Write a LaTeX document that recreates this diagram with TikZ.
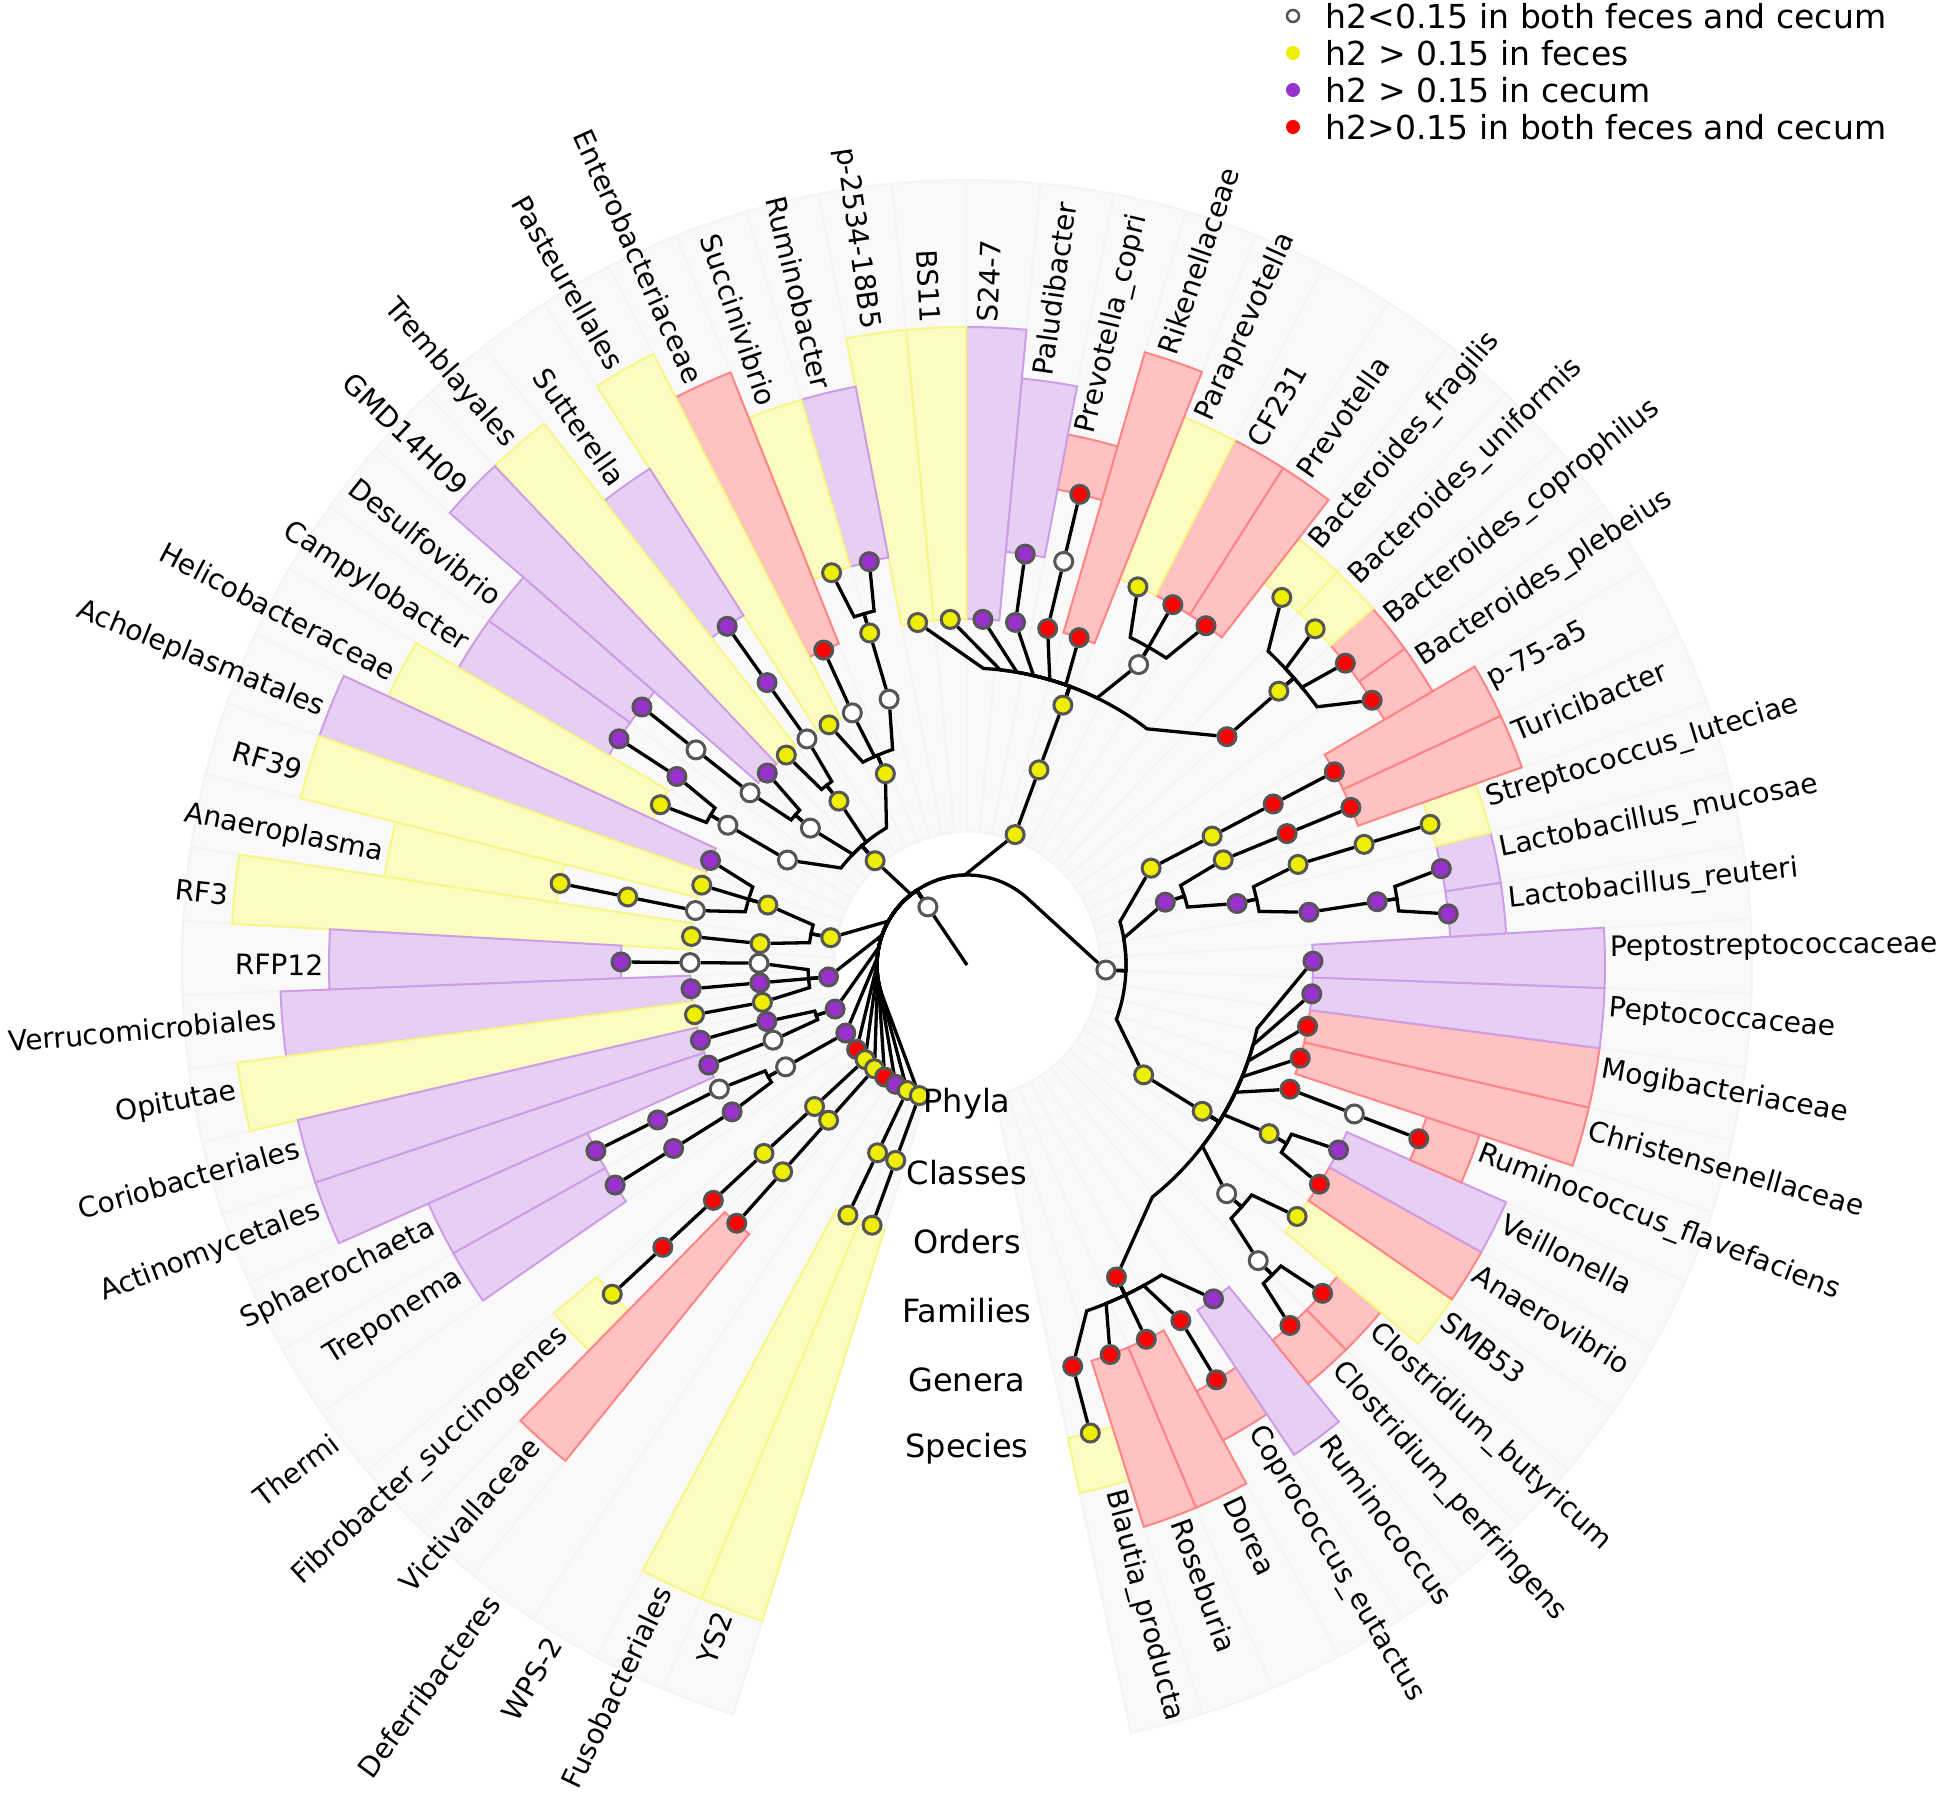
\documentclass[tikz,border=0pt]{standalone}
\usepackage{fontspec}
\setmainfont{DejaVu Sans}
\usepackage{tikz}
\usetikzlibrary{calc}
\definecolor{hyel}{HTML}{EEEE00}
\definecolor{hpur}{HTML}{9932CC}
\definecolor{hred}{HTML}{FF0000}
\definecolor{rimgray}{HTML}{555555}
\pgfdeclarelayer{canvas}
\pgfdeclarelayer{shade}
\pgfdeclarelayer{wires}
\pgfsetlayers{canvas,shade,wires,main}

\tikzset{
	tx/.style={circle, draw=rimgray, line width=0.3mm, minimum size=1.8mm, inner sep=0pt},
	yel/.style={tx, fill=hyel},
	pur/.style={tx, fill=hpur},
	rdn/.style={tx, fill=hred},
	wht/.style={tx, fill=white},
	branchline/.style={black, line width=0.33mm},
	slotshade/.style={fill=black!2.5, draw=black!4.5, line width=0.2mm},
	hilite/.style={fill=#1!24, draw=#1!48, line width=0.2mm},
	leaftext/.style={inner sep=0pt, font=\fontsize{8}{9.6}\selectfont},
	levtext/.style={inner sep=0pt, font=\fontsize{9.1}{11}\selectfont},
	keytext/.style={inner sep=0pt, anchor=west, font=\fontsize{9.4}{11}\selectfont}
}

% taxon node: name, angle, level, style
\newcommand{\taxon}[4]
{
	\pgfmathsetmacro\trad{70+69*#3}
	\node[#4] (#1) at (#2:\trad) {};
	\expandafter\xdef\csname tang@#1\endcsname{#2}
	\expandafter\xdef\csname tlev@#1\endcsname{#3}
}
% parent -> children with a bracket
\newcommand{\branch}[2]
{
	\foreach \kid in {#2}{
		\edef\brpang{\csname tang@#1\endcsname}
		\edef\brcang{\csname tang@\kid\endcsname}
		\edef\brlev{\csname tlev@#1\endcsname}
		\pgfmathsetmacro\brrad{90+69*\brlev}
		\pgfmathsetmacro\brbang{\brpang+0.6*(\brcang-\brpang)}
		\draw[branchline] (#1) -- (\brpang:\brrad) arc[start angle=\brpang, end angle=\brbang, radius=\brrad] -- (\kid);
	}
}
% label of a slot: slot, angle, radius, text
\newcommand{\leafname}[4]
{
	\pgfmathsetmacro\labrad{#3+5}
	\ifdim #2pt<90pt
		\pgfmathsetmacro\labang{#2+0.8}
		\node[leaftext, anchor=west, rotate=#2] (lab#1) at (\labang:\labrad) {#4};
	\else
		\ifdim #2pt<180pt \pgfmathsetmacro\labang{#2+0.5}\else\pgfmathsetmacro\labang{#2-0.5}\fi
		\pgfmathsetmacro\labrot{#2-180}
		\node[leaftext, anchor=east, rotate=\labrot] (lab#1) at (\labang:\labrad) {#4};
	\fi
}
% coloured slot: slot, leaf level, label level, colour, text
\newcommand{\leaf}[5]
{
	\pgfmathsetmacro\slotang{-75.24+5.42*#1}
	\pgfmathsetmacro\slotrin{70+69*#2}
	\pgfmathsetmacro\slotrout{540+49*(6-#3)}
	\pgfmathsetmacro\slotlo{\slotang-2.71}
	\pgfmathsetmacro\slothi{\slotang+2.71}
	\path[hilite=#4] (\slotlo:\slotrin) -- (\slotlo:\slotrout) arc[start angle=\slotlo, end angle=\slothi, radius=\slotrout] -- (\slothi:\slotrin) arc[start angle=\slothi, end angle=\slotlo, radius=\slotrin] -- cycle;
	\leafname{#1}{\slotang}{\slotrout}{#5}
}

\begin{document}
\begin{tikzpicture}[x=0.1mm, y=0.1mm]
	\useasboundingbox (-967,-837) rectangle (980,965);
	\begin{pgfonlayer}{canvas}
	\fill[white] (-967,-837) rectangle (980,965);
	\end{pgfonlayer}

	\coordinate (root) at (0,0);
	\taxon{bacteria}{123.95}{0}{wht}

	\taxon{firmicutes}{-2.07}{1}{wht}
	\taxon{bacteroidetes}{69.75}{1}{yel}
	\taxon{proteobacteria}{131.40}{1}{yel}
	\taxon{tenericutes}{168.66}{1}{yel}
	\taxon{verrucomicrobia}{184.92}{1}{pur}
	\taxon{actinobacteria}{198.47}{1}{pur}
	\taxon{spirochaetes}{209.31}{1}{pur}
	\taxon{thermi}{217.44}{1}{rdn}
	\taxon{fibrobacteres}{222.86}{1}{yel}
	\taxon{lentisphaerae}{228.28}{1}{yel}
	\taxon{deferribacteres}{233.70}{1}{rdn}
	\taxon{wps2}{239.12}{1}{pur}
	\taxon{fusobacteria}{244.54}{1}{yel}
	\taxon{cyanobacteria}{249.96}{1}{yel}

	\taxon{erysipelotrichi}{27.74}{2}{yel}
	\taxon{erysipelotrichales}{27.74}{3}{yel}
	\taxon{erysipelotrichaceae}{27.74}{4}{rdn}
	\taxon{p75a5}{27.74}{5}{rdn}
	\taxon{bacilli}{17.58}{2}{pur}
	\taxon{turicibacterales}{22.32}{3}{yel}
	\taxon{turicibacteraceae}{22.32}{4}{rdn}
	\taxon{turicibacter}{22.32}{5}{rdn}
	\taxon{lactobacillales}{12.83}{3}{pur}
	\taxon{streptococcaceae}{16.90}{4}{yel}
	\taxon{streptococcus}{16.90}{5}{yel}
	\taxon{sluteciae}{16.90}{6}{yel}
	\taxon{lactobacillaceae}{8.77}{4}{pur}
	\taxon{lactobacillus}{8.77}{5}{pur}
	\taxon{lmucosae}{11.48}{6}{pur}
	\taxon{lreuteri}{6.06}{6}{pur}
	\taxon{clostridia}{-31.88}{2}{yel}
	\taxon{clostridiales}{-31.88}{3}{yel}
	\taxon{peptostreptococcaceae}{0.64}{4}{pur}
	\taxon{peptococcaceae}{-4.78}{4}{pur}
	\taxon{mogibacteriaceae}{-10.20}{4}{rdn}
	\taxon{christensenellaceae}{-15.62}{4}{rdn}
	\taxon{ruminococcaceae}{-21.04}{4}{rdn}
	\taxon{ruminococcusA}{-21.04}{5}{wht}
	\taxon{rflavefaciens}{-21.04}{6}{rdn}
	\taxon{veillonellaceae}{-29.17}{4}{yel}
	\taxon{veillonella}{-26.46}{5}{pur}
	\taxon{anaerovibrio}{-31.88}{5}{rdn}
	\taxon{clostridiaceae}{-41.37}{4}{wht}
	\taxon{smb53}{-37.30}{5}{yel}
	\taxon{clostridium}{-45.43}{5}{wht}
	\taxon{cbutyricum}{-42.72}{6}{rdn}
	\taxon{cperfringens}{-48.14}{6}{rdn}
	\taxon{lachnospiraceae}{-64.40}{4}{rdn}
	\taxon{ruminococcusB}{-53.56}{5}{pur}
	\taxon{coprococcus}{-58.98}{5}{rdn}
	\taxon{ceutactus}{-58.98}{6}{rdn}
	\taxon{dorea}{-64.40}{5}{rdn}
	\taxon{roseburia}{-69.82}{5}{rdn}
	\taxon{blautia}{-75.24}{5}{rdn}
	\taxon{bproducta}{-75.24}{6}{yel}

	\taxon{bacteroidia}{69.75}{2}{yel}
	\taxon{bacteroidales}{69.75}{3}{yel}
	\taxon{p2534}{98.20}{4}{yel}
	\taxon{bs11}{92.78}{4}{yel}
	\taxon{s247}{87.36}{4}{pur}
	\taxon{porphyromonadaceae}{81.94}{4}{pur}
	\taxon{paludibacter}{81.94}{5}{pur}
	\taxon{prevotellaceae}{76.52}{4}{rdn}
	\taxon{prevotellaA}{76.52}{5}{wht}
	\taxon{pcopri}{76.52}{6}{rdn}
	\taxon{rikenellaceae}{71.10}{4}{rdn}
	\taxon{paraprevotellaceae}{60.26}{4}{wht}
	\taxon{paraprevotella}{65.68}{5}{yel}
	\taxon{cf231}{60.26}{5}{rdn}
	\taxon{prevotellaB}{54.84}{5}{rdn}
	\taxon{bacteroidaceae}{41.29}{4}{rdn}
	\taxon{bacteroides}{41.29}{5}{yel}
	\taxon{bfragilis}{49.42}{6}{yel}
	\taxon{buniformis}{44.00}{6}{yel}
	\taxon{bcoprophilus}{38.58}{6}{rdn}
	\taxon{bplebeius}{33.16}{6}{rdn}

	\taxon{gammaproteobacteria}{113.11}{2}{yel}
	\taxon{aeromonadales}{106.33}{3}{wht}
	\taxon{succinivibrionaceae}{106.33}{4}{yel}
	\taxon{ruminobacter}{103.62}{5}{pur}
	\taxon{succinivibrio}{109.04}{5}{yel}
	\taxon{enterobacteriales}{114.46}{3}{wht}
	\taxon{enterobacteriaceae}{114.46}{4}{rdn}
	\taxon{pasteurellales}{119.88}{3}{yel}
	\taxon{betaproteobacteria}{128.01}{2}{yel}
	\taxon{burkholderiales}{125.30}{3}{wht}
	\taxon{alcaligenaceae}{125.30}{4}{pur}
	\taxon{sutterella}{125.30}{5}{pur}
	\taxon{tremblayales}{130.72}{3}{yel}
	\taxon{deltaproteobacteria}{138.85}{2}{wht}
	\taxon{gmd14h09}{136.14}{3}{pur}
	\taxon{desulfovibrionales}{141.56}{3}{wht}
	\taxon{desulfovibrionaceae}{141.56}{4}{wht}
	\taxon{desulfovibrio}{141.56}{5}{pur}
	\taxon{epsilonproteobacteria}{149.69}{2}{wht}
	\taxon{campylobacterales}{149.69}{3}{wht}
	\taxon{campylobacteraceae}{146.98}{4}{pur}
	\taxon{campylobacter}{146.98}{5}{pur}
	\taxon{helicobacteraceae}{152.40}{4}{yel}

	\taxon{mollicutes}{163.24}{2}{yel}
	\taxon{acholeplasmatales}{157.82}{3}{pur}
	\taxon{rf39}{163.24}{3}{yel}
	\taxon{anaeroplasmatales}{168.66}{3}{wht}
	\taxon{anaeroplasmataceae}{168.66}{4}{yel}
	\taxon{anaeroplasma}{168.66}{5}{yel}
	\taxon{rf3}{174.08}{2}{yel}
	\taxon{ml615j28}{174.08}{3}{yel}

	\taxon{verruco5}{179.50}{2}{wht}
	\taxon{wchb141}{179.50}{3}{wht}
	\taxon{rfp12}{179.50}{4}{pur}
	\taxon{verrucomicrobiae}{184.92}{2}{pur}
	\taxon{verrucomicrobiales}{184.92}{3}{pur}
	\taxon{opitutae}{190.34}{2}{yel}
	\taxon{opitutaeord}{190.34}{3}{yel}
	\taxon{coriobacteriia}{195.76}{2}{pur}
	\taxon{coriobacteriales}{195.76}{3}{pur}
	\taxon{actinobacteriacl}{201.18}{2}{wht}
	\taxon{actinomycetales}{201.18}{3}{pur}
	\taxon{spirochaetescl}{209.31}{2}{wht}
	\taxon{sphaerochaetales}{206.60}{3}{wht}
	\taxon{sphaerochaetaceae}{206.60}{4}{pur}
	\taxon{sphaerochaeta}{206.60}{5}{pur}
	\taxon{spirochaetales}{212.02}{3}{pur}
	\taxon{spirochaetaceae}{212.02}{4}{pur}
	\taxon{treponema}{212.02}{5}{pur}
	\taxon{fibrobacteria}{222.86}{2}{yel}
	\taxon{fibrobacterales}{222.86}{3}{yel}
	\taxon{fibrobacteraceae}{222.86}{4}{rdn}
	\taxon{fibrobacter}{222.86}{5}{rdn}
	\taxon{fsuccinogenes}{222.86}{6}{yel}
	\taxon{lentisphaeria}{228.28}{2}{yel}
	\taxon{victivallales}{228.28}{3}{yel}
	\taxon{victivallaceae}{228.28}{4}{rdn}
	\taxon{fusobacteriia}{244.54}{2}{yel}
	\taxon{fusobacteriales}{244.54}{3}{yel}
	\taxon{c4c0d2}{249.96}{2}{yel}
	\taxon{ys2}{249.96}{3}{yel}

	\begin{pgfonlayer}{wires}
	\draw[branchline] (root) -- (bacteria);
	\branch{bacteria}{firmicutes,bacteroidetes,proteobacteria,tenericutes,verrucomicrobia,actinobacteria,spirochaetes,thermi,fibrobacteres,lentisphaerae,deferribacteres,wps2,fusobacteria,cyanobacteria}
	\branch{firmicutes}{erysipelotrichi,bacilli,clostridia}
	\branch{erysipelotrichi}{erysipelotrichales}
	\branch{erysipelotrichales}{erysipelotrichaceae}
	\branch{erysipelotrichaceae}{p75a5}
	\branch{bacilli}{turicibacterales,lactobacillales}
	\branch{turicibacterales}{turicibacteraceae}
	\branch{turicibacteraceae}{turicibacter}
	\branch{lactobacillales}{streptococcaceae,lactobacillaceae}
	\branch{streptococcaceae}{streptococcus}
	\branch{streptococcus}{sluteciae}
	\branch{lactobacillaceae}{lactobacillus}
	\branch{lactobacillus}{lmucosae,lreuteri}
	\branch{clostridia}{clostridiales}
	\branch{clostridiales}{peptostreptococcaceae,peptococcaceae,mogibacteriaceae,christensenellaceae,ruminococcaceae,veillonellaceae,clostridiaceae,lachnospiraceae}
	\branch{ruminococcaceae}{ruminococcusA}
	\branch{ruminococcusA}{rflavefaciens}
	\branch{veillonellaceae}{veillonella,anaerovibrio}
	\branch{clostridiaceae}{smb53,clostridium}
	\branch{clostridium}{cbutyricum,cperfringens}
	\branch{lachnospiraceae}{ruminococcusB,coprococcus,dorea,roseburia,blautia}
	\branch{coprococcus}{ceutactus}
	\branch{blautia}{bproducta}
	\branch{bacteroidetes}{bacteroidia}
	\branch{bacteroidia}{bacteroidales}
	\branch{bacteroidales}{p2534,bs11,s247,porphyromonadaceae,prevotellaceae,rikenellaceae,paraprevotellaceae,bacteroidaceae}
	\branch{porphyromonadaceae}{paludibacter}
	\branch{prevotellaceae}{prevotellaA}
	\branch{prevotellaA}{pcopri}
	\branch{paraprevotellaceae}{paraprevotella,cf231,prevotellaB}
	\branch{bacteroidaceae}{bacteroides}
	\branch{bacteroides}{bfragilis,buniformis,bcoprophilus,bplebeius}
	\branch{proteobacteria}{gammaproteobacteria,betaproteobacteria,deltaproteobacteria,epsilonproteobacteria}
	\branch{gammaproteobacteria}{aeromonadales,enterobacteriales,pasteurellales}
	\branch{aeromonadales}{succinivibrionaceae}
	\branch{succinivibrionaceae}{ruminobacter,succinivibrio}
	\branch{enterobacteriales}{enterobacteriaceae}
	\branch{betaproteobacteria}{burkholderiales,tremblayales}
	\branch{burkholderiales}{alcaligenaceae}
	\branch{alcaligenaceae}{sutterella}
	\branch{deltaproteobacteria}{gmd14h09,desulfovibrionales}
	\branch{desulfovibrionales}{desulfovibrionaceae}
	\branch{desulfovibrionaceae}{desulfovibrio}
	\branch{epsilonproteobacteria}{campylobacterales}
	\branch{campylobacterales}{campylobacteraceae,helicobacteraceae}
	\branch{campylobacteraceae}{campylobacter}
	\branch{tenericutes}{mollicutes,rf3}
	\branch{mollicutes}{acholeplasmatales,rf39,anaeroplasmatales}
	\branch{anaeroplasmatales}{anaeroplasmataceae}
	\branch{anaeroplasmataceae}{anaeroplasma}
	\branch{rf3}{ml615j28}
	\branch{verrucomicrobia}{verruco5,verrucomicrobiae,opitutae}
	\branch{verruco5}{wchb141}
	\branch{wchb141}{rfp12}
	\branch{verrucomicrobiae}{verrucomicrobiales}
	\branch{opitutae}{opitutaeord}
	\branch{actinobacteria}{coriobacteriia,actinobacteriacl}
	\branch{coriobacteriia}{coriobacteriales}
	\branch{actinobacteriacl}{actinomycetales}
	\branch{spirochaetes}{spirochaetescl}
	\branch{spirochaetescl}{sphaerochaetales,spirochaetales}
	\branch{sphaerochaetales}{sphaerochaetaceae}
	\branch{sphaerochaetaceae}{sphaerochaeta}
	\branch{spirochaetales}{spirochaetaceae}
	\branch{spirochaetaceae}{treponema}
	\branch{fibrobacteres}{fibrobacteria}
	\branch{fibrobacteria}{fibrobacterales}
	\branch{fibrobacterales}{fibrobacteraceae}
	\branch{fibrobacteraceae}{fibrobacter}
	\branch{fibrobacter}{fsuccinogenes}
	\branch{lentisphaerae}{lentisphaeria}
	\branch{lentisphaeria}{victivallales}
	\branch{victivallales}{victivallaceae}
	\branch{fusobacteria}{fusobacteriia}
	\branch{fusobacteriia}{fusobacteriales}
	\branch{cyanobacteria}{c4c0d2}
	\branch{c4c0d2}{ys2}
	\end{pgfonlayer}

	\begin{pgfonlayer}{shade}
	\foreach \i in {0,...,60}{
		\pgfmathsetmacro\gl{-77.95+5.42*\i}
		\pgfmathsetmacro\gh{-72.53+5.42*\i}
		\path[slotshade] (\gl:133) -- (\gl:785) arc[start angle=\gl, end angle=\gh, radius=785] -- (\gh:133) arc[start angle=\gh, end angle=\gl, radius=133] -- cycle;
	}
	\leaf{0}{6}{6}{hyel}{Blautia\_producta}
	\leaf{1}{5}{5}{hred}{Roseburia}
	\leaf{2}{5}{5}{hred}{Dorea}
	\leaf{3}{6}{6}{hred}{Coprococcus\_eutactus}
	\leaf{4}{5}{5}{hpur}{Ruminococcus}
	\leaf{5}{6}{6}{hred}{Clostridium\_perfringens}
	\leaf{6}{6}{6}{hred}{Clostridium\_butyricum}
	\leaf{7}{5}{5}{hyel}{SMB53}
	\leaf{8}{5}{5}{hred}{Anaerovibrio}
	\leaf{9}{5}{5}{hpur}{Veillonella}
	\leaf{10}{6}{6}{hred}{Ruminococcus\_flavefaciens}
	\leaf{11}{4}{4}{hred}{Christensenellaceae}
	\leaf{12}{4}{4}{hred}{Mogibacteriaceae}
	\leaf{13}{4}{4}{hpur}{Peptococcaceae}
	\leaf{14}{4}{4}{hpur}{Peptostreptococcaceae}
	\leaf{15}{6}{6}{hpur}{Lactobacillus\_reuteri}
	\leaf{16}{6}{6}{hpur}{Lactobacillus\_mucosae}
	\leaf{17}{6}{6}{hyel}{Streptococcus\_luteciae}
	\leaf{18}{5}{5}{hred}{Turicibacter}
	\leaf{19}{5}{5}{hred}{p-75-a5}
	\leaf{20}{6}{6}{hred}{Bacteroides\_plebeius}
	\leaf{21}{6}{6}{hred}{Bacteroides\_coprophilus}
	\leaf{22}{6}{6}{hyel}{Bacteroides\_uniformis}
	\leaf{23}{6}{6}{hyel}{Bacteroides\_fragilis}
	\leaf{24}{5}{5}{hred}{Prevotella}
	\leaf{25}{5}{5}{hred}{CF231}
	\leaf{26}{5}{5}{hyel}{Paraprevotella}
	\leaf{27}{4}{4}{hred}{Rikenellaceae}
	\leaf{28}{6}{6}{hred}{Prevotella\_copri}
	\leaf{29}{5}{5}{hpur}{Paludibacter}
	\leaf{30}{4}{4}{hpur}{S24-7}
	\leaf{31}{4}{4}{hyel}{BS11}
	\leaf{32}{4}{4}{hyel}{p-2534-18B5}
	\leaf{33}{5}{5}{hpur}{Ruminobacter}
	\leaf{34}{5}{5}{hyel}{Succinivibrio}
	\leaf{35}{4}{4}{hred}{Enterobacteriaceae}
	\leaf{36}{3}{3}{hyel}{Pasteurellales}
	\leaf{37}{5}{5}{hpur}{Sutterella}
	\leaf{38}{3}{3}{hyel}{Tremblayales}
	\leaf{39}{3}{3}{hpur}{GMD14H09}
	\leaf{40}{5}{5}{hpur}{Desulfovibrio}
	\leaf{41}{5}{5}{hpur}{Campylobacter}
	\leaf{42}{4}{4}{hyel}{Helicobacteraceae}
	\leaf{43}{3}{3}{hpur}{Acholeplasmatales}
	\leaf{44}{3}{3}{hyel}{RF39}
	\leaf{45}{5}{5}{hyel}{Anaeroplasma}
	\leaf{46}{3}{2}{hyel}{RF3}
	\leaf{47}{4}{4}{hpur}{RFP12}
	\leaf{48}{3}{3}{hpur}{Verrucomicrobiales}
	\leaf{49}{3}{2}{hyel}{Opitutae}
	\leaf{50}{3}{3}{hpur}{Coriobacteriales}
	\leaf{51}{3}{3}{hpur}{Actinomycetales}
	\leaf{52}{5}{5}{hpur}{Sphaerochaeta}
	\leaf{53}{5}{5}{hpur}{Treponema}
	\leafname{54}{217.44}{785}{Thermi}
	\leaf{55}{6}{6}{hyel}{Fibrobacter\_succinogenes}
	\leaf{56}{4}{4}{hred}{Victivallaceae}
	\leafname{57}{233.70}{785}{Deferribacteres}
	\leafname{58}{239.12}{785}{WPS-2}
	\leaf{59}{3}{3}{hyel}{Fusobacteriales}
	\leaf{60}{3}{3}{hyel}{YS2}
	\end{pgfonlayer}

	\node[levtext] (levphyla) at (0,-139) {Phyla};
	\node[levtext] (levclasses) at (0,-208) {Classes};
	\node[levtext] (levorders) at (0,-277) {Orders};
	\node[levtext] (levfamilies) at (0,-346) {Families};
	\node[levtext] (levgenera) at (0,-415) {Genera};
	\node[levtext] (levspecies) at (0,-484) {Species};

	\node[wht, minimum size=1.2mm, line width=0.25mm] (keynone) at (326,949) {};
	\node[keytext] (keynonetext) at (358,949) {h2<0.15 in both feces and cecum};
	\node[circle, fill=hyel, inner sep=0pt, minimum size=1.4mm] (keyfeces) at (326,912) {};
	\node[keytext] (keyfecestext) at (358,912) {h2 > 0.15 in feces};
	\node[circle, fill=hpur, inner sep=0pt, minimum size=1.4mm] (keycecum) at (326,875) {};
	\node[keytext] (keycecumtext) at (358,875) {h2 > 0.15 in cecum};
	\node[circle, fill=hred, inner sep=0pt, minimum size=1.4mm] (keyboth) at (326,838) {};
	\node[keytext] (keybothtext) at (358,838) {h2>0.15 in both feces and cecum};
\end{tikzpicture}
\end{document}
